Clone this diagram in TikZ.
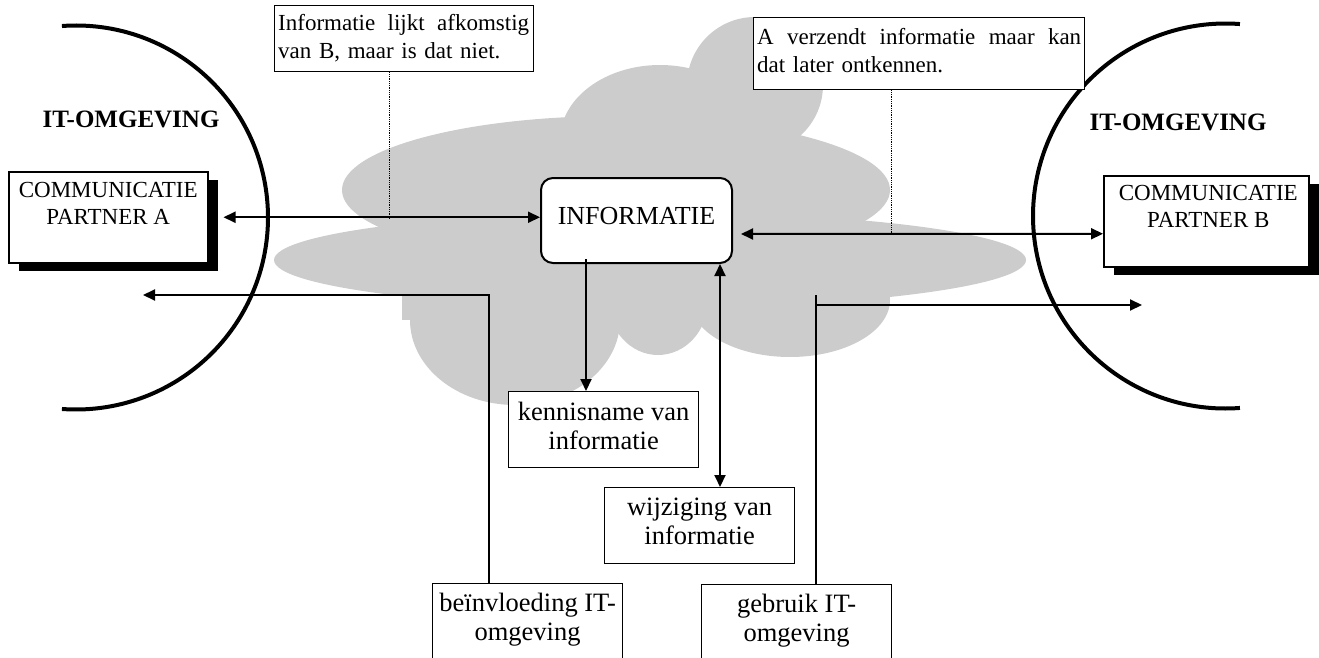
\documentclass[tikz,border=0pt]{standalone}
\usepackage{fontspec}
\setmainfont{Liberation Serif}
\usetikzlibrary{arrows.meta,shadows,calc}
\definecolor{cloudgray}{HTML}{CCCCCC}

\begin{document}
\begin{tikzpicture}[x=1pt,y=-1pt,
  box/.style={draw, line width=1.2pt, fill=white, inner sep=0pt, anchor=north west},
  partnerbox/.style={box, line width=1.5pt,
    general shadow={fill=black, shadow xshift=10pt, shadow yshift=-8pt}},
  infobox/.style={box, line width=2pt, rounded corners=12pt},
  txt/.style={anchor=north, inner sep=0pt, align=center},
  partnertxt/.style={txt, font=\fontsize{23}{27}\selectfont},
  labeltxt/.style={txt, font=\fontsize{26.5}{29}\selectfont},
  notetxt/.style={anchor=north west, inner sep=0pt, align=left,
    font=\fontsize{23}{28}\selectfont},
  envtxt/.style={anchor=north, inner sep=0pt, font=\bfseries\fontsize{25}{28}\selectfont},
  tip/.tip={Triangle[length=12pt,width=11pt]},
  arr/.style={line width=2pt, -tip},
  dbl/.style={line width=2pt, tip-tip},
  lead/.style={densely dotted, line width=0.8pt},
  rim/.style={line width=4pt}]

\useasboundingbox (0,0) rectangle (1319,658);
\clip (0,0) rectangle (1319,658);

% the cloud (network) behind everything
\fill[cloudgray] (650,260) ellipse[x radius=376, y radius=48];
\fill[cloudgray] (616,190) ellipse[x radius=274, y radius=74];
\fill[cloudgray] (660,140) ellipse[x radius=100, y radius=75];
\fill[cloudgray] (755,85) ellipse[x radius=68, y radius=68];
\fill[cloudgray] (515,320) ellipse[x radius=105, y radius=85];
\fill[cloudgray] (658,300) ellipse[x radius=50, y radius=55];
\fill[cloudgray] (790,300) ellipse[x radius=100, y radius=57];
\fill[cloudgray] (402,288) rectangle (414,320);

% IT environments on both sides
\draw[rim] (76,217.5) ++(-94.2:192) arc[start angle=-94.2, end angle=94.2, radius=192];
\draw[rim] (1225.5,216) ++(85.7:192.5) arc[start angle=85.7, end angle=274.3, radius=192.5];
\node[envtxt] (envA) at (131,111) {IT-OMGEVING};
\node[envtxt] (envB) at (1178,114) {IT-OMGEVING};

% callouts
\node[box, minimum width=259pt, minimum height=66pt] (c1) at (274,5) {};
\node[notetxt, text width=251pt] (c1txt) at (278,14)
  {Informatie\hfill lijkt\hfill afkomstig\\van B, maar is dat niet.};
\node[box, minimum width=331pt, minimum height=72pt] (c2) at (753,17) {};
\node[notetxt, text width=324pt] (c2txt) at (757,28)
  {A\hfill verzendt\hfill informatie\hfill maar\hfill kan\\dat later ontkennen.};
\draw[lead] ($(c1.south)+(-14.5,0)$) -- ++(0,146);
\draw[lead] ($(c2.south)+(-27.5,0)$) -- ++(0,143);

% partners and the information
\node[partnerbox, minimum width=199pt, minimum height=91pt] (A) at (8,171) {};
\node[partnertxt] (Atxt) at ($(A.north)+(0,11)$) {COMMUNICATIE\\PARTNER A};
\node[partnerbox, minimum width=205pt, minimum height=91pt] (B) at (1103,175) {};
\node[partnertxt] (Btxt) at ($(B.north)+(2,10)$) {COMMUNICATIE\\PARTNER B};
\node[infobox, minimum width=191pt, minimum height=85pt] (INFO) at (540,177) {};
\node[txt, font=\fontsize{26}{30}\selectfont] (INFOtxt) at ($(INFO.north)+(0,30)$) {INFORMATIE};

% threats
\node[box, minimum width=190pt, minimum height=76pt] (kennis) at (508,391) {};
\node[labeltxt] (kennistxt) at ($(kennis.north)+(0,11)$) {kennisname van\\informatie};
\node[box, minimum width=190pt, minimum height=76pt] (wijz) at (604,487) {};
\node[labeltxt] (wijztxt) at ($(wijz.north)+(0,11)$) {wijziging van\\informatie};
\node[box, minimum width=190pt, minimum height=95pt] (beinv) at (432,583) {};
\node[labeltxt] (beinvtxt) at ($(beinv.north)+(0,10)$) {beïnvloeding IT-\\omgeving};
\node[box, minimum width=190pt, minimum height=95pt] (gebr) at (701,584) {};
\node[labeltxt] (gebrtxt) at ($(gebr.north)+(0,10)$) {gebruik IT-\\omgeving};

% connectors
\draw[dbl] ([xshift=15pt]A.east) -- (A.east -| INFO.west);
\draw[dbl] ($(INFO.east)+(8,13.5)$) -- ($(B.west)+(0,12.5)$);

\coordinate (kx) at ($(INFO.south)+(-50.5,-5)$);
\draw[arr] (kx) -- (kx |- kennis.north);

\coordinate (wx) at ($(INFO.south)+(83.5,0)$);
\draw[dbl] (wx |- wijz.north) -- (wx);

\coordinate (leftend) at (143,295);
\draw[arr] ($(beinv.north)+(-39,0)$) |- (leftend);

\coordinate (rightend) at (1142,305);
\coordinate (gx) at ($(gebr.north)+(19,0)$);
\draw[line width=2pt] (gx) -- ++(0,-289);
\draw[arr] (gx |- rightend) -- (rightend);
\end{tikzpicture}
\end{document}
